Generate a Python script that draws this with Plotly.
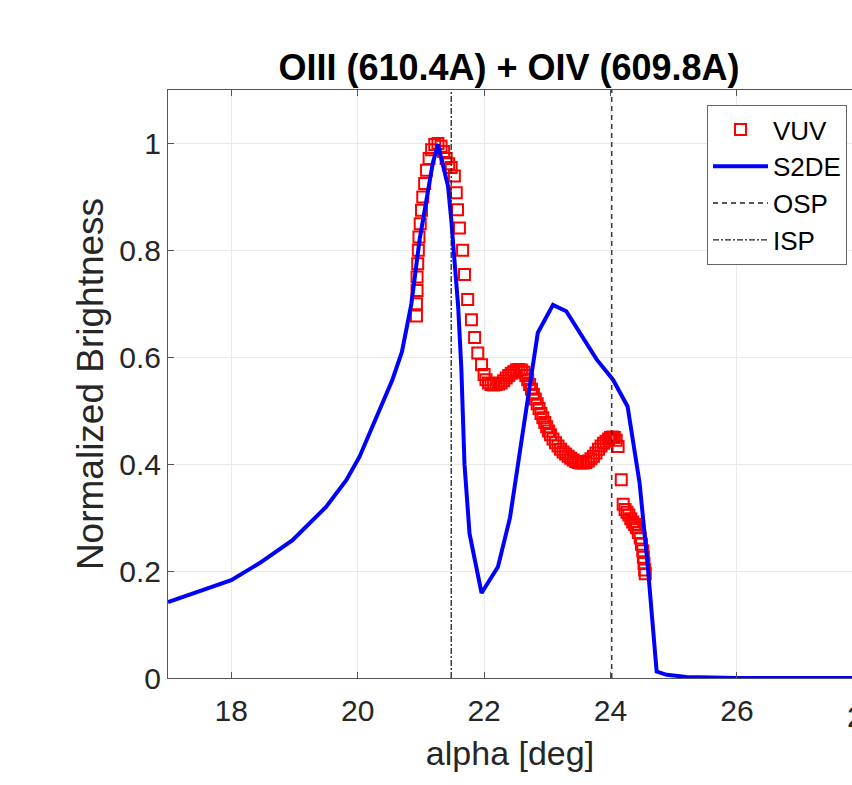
import plotly.graph_objects as go

# ---------------- data ----------------
title_text = "OIII (610.4A) + OIV (609.8A)"

vuv_alpha = [20.93, 20.93, 20.94, 20.94, 20.95, 20.96, 20.97, 20.99, 21.01, 21.03,
             21.06, 21.09, 21.13, 21.17, 21.22, 21.27, 21.32, 21.36, 21.40, 21.44,
             21.48, 21.53, 21.56, 21.58, 21.61, 21.66, 21.69, 21.74, 21.80, 21.85,
             21.90, 21.96, 22.00, 22.03, 22.07, 22.11, 22.15, 22.19, 22.23, 22.27,
             22.31, 22.35, 22.39, 22.43, 22.47, 22.51, 22.55, 22.59, 22.63, 22.66,
             22.69, 22.72, 22.75, 22.78, 22.81, 22.84, 22.87, 22.90, 22.93, 22.96,
             22.99, 23.02, 23.05, 23.09, 23.13, 23.17, 23.21, 23.25, 23.29, 23.33,
             23.37, 23.41, 23.45, 23.49, 23.53, 23.57, 23.61, 23.65, 23.69, 23.73,
             23.77, 23.81, 23.85, 23.89, 23.93, 23.97, 24.00, 24.03, 24.06, 24.09,
             24.12, 24.17, 24.20, 24.23, 24.26, 24.29, 24.32, 24.35, 24.38, 24.41,
             24.44, 24.47, 24.49, 24.51, 24.52, 24.53, 24.54, 24.55]
vuv_bright = [0.677, 0.700, 0.725, 0.750, 0.775, 0.800, 0.825, 0.850, 0.875, 0.900,
              0.925, 0.950, 0.972, 0.988, 0.998, 1.000, 0.995, 0.985, 0.972, 0.962,
              0.955, 0.939, 0.908, 0.876, 0.842, 0.800, 0.755, 0.708, 0.670, 0.637,
              0.608, 0.586, 0.568, 0.558, 0.552, 0.549, 0.548, 0.549, 0.550, 0.552,
              0.556, 0.561, 0.566, 0.570, 0.573, 0.576, 0.577, 0.576, 0.572, 0.566,
              0.558, 0.549, 0.540, 0.531, 0.522, 0.513, 0.504, 0.495, 0.487, 0.478,
              0.470, 0.462, 0.455, 0.447, 0.440, 0.434, 0.428, 0.423, 0.419, 0.415,
              0.411, 0.408, 0.405, 0.403, 0.402, 0.402, 0.403, 0.406, 0.410, 0.415,
              0.421, 0.428, 0.434, 0.439, 0.443, 0.447, 0.450, 0.451, 0.450, 0.445,
              0.433, 0.371, 0.325, 0.315, 0.310, 0.305, 0.298, 0.292, 0.287, 0.281,
              0.272, 0.262, 0.250, 0.238, 0.226, 0.214, 0.202, 0.195]

s2de_alpha = [17.0, 17.5, 18.0, 18.45, 18.97, 19.5, 19.82, 20.03, 20.3, 20.55,
              20.7, 20.85, 20.98, 21.09, 21.19, 21.27, 21.43, 21.48, 21.53, 21.59,
              21.64, 21.69, 21.77, 21.96, 22.22, 22.41, 22.61, 22.85, 23.09, 23.3,
              23.78, 24.04, 24.27, 24.46, 24.59, 24.73, 24.89, 25.2, 26.0, 27.0, 28.0]
s2de_bright = [0.142, 0.162, 0.183, 0.215, 0.258, 0.32, 0.37, 0.414, 0.49, 0.558,
               0.61, 0.70, 0.82, 0.90, 0.964, 0.998, 0.92, 0.858, 0.783, 0.695,
               0.58, 0.40, 0.27, 0.159, 0.208, 0.30, 0.458, 0.646, 0.698, 0.686,
               0.596, 0.558, 0.508, 0.365, 0.208, 0.012, 0.006, 0.002, 0.0, 0.0, 0.0]

osp_alpha = 24.02
isp_alpha = 21.48

x_range = [17, 27.82]
y_range = [0, 1.1]
x_ticks = [18, 20, 22, 24, 26, 28]
y_ticks = [0, 0.2, 0.4, 0.6, 0.8, 1.0]
y_ticktext = ["0", "0.2", "0.4", "0.6", "0.8", "1"]

# ---------------- figure ----------------
FONT = "Liberation Sans, Arial, Helvetica, sans-serif"
TXT = "#262626"
AX = "#555555"

fig = go.Figure()

fig.add_trace(go.Scatter(
    x=vuv_alpha, y=vuv_bright, mode="markers", name="VUV",
    marker=dict(symbol="square-open", size=11, color="#ff0000",
                line=dict(width=2, color="#ff0000")),
))
fig.add_trace(go.Scatter(
    x=s2de_alpha, y=s2de_bright, mode="lines", name="S2DE",
    line=dict(color="#0000ff", width=4),
))
fig.add_trace(go.Scatter(
    x=[osp_alpha, osp_alpha], y=y_range, mode="lines", name="OSP",
    line=dict(color="#222222", width=1.3, dash="5px,4px"),
))
fig.add_trace(go.Scatter(
    x=[isp_alpha, isp_alpha], y=y_range, mode="lines", name="ISP",
    line=dict(color="#222222", width=1.3, dash="6px,2px,2px,2px"),
))

fig.update_layout(
    width=852, height=785,
    margin=dict(l=168, r=0, t=90, b=107),
    paper_bgcolor="white", plot_bgcolor="white",
    font=dict(family=FONT, color=TXT, size=30),
    title=dict(text="<b>" + title_text + "</b>", x=509 / 852, xanchor="center",
               xref="container", y=1 - 67 / 785, yanchor="middle", yref="container",
               font=dict(family=FONT, size=36, color="#000000")),
    showlegend=True,
    legend=dict(x=(847 - 168) / 684, y=(678 - 105) / 588, xanchor="right", yanchor="top",
                bgcolor="white", bordercolor="#666666", borderwidth=1,
                font=dict(family=FONT, size=26, color="#000000"),
                tracegroupgap=0, itemwidth=55),
    xaxis=dict(range=x_range, tickvals=x_ticks, ticks="inside", ticklen=6,
               tickcolor=AX, showline=True, linecolor=AX, linewidth=1, mirror="ticks",
               showgrid=True, gridcolor="#e9e9e9", gridwidth=1, zeroline=False,
               tickfont=dict(size=30, color=TXT), ticklabelstandoff=6,
               title=dict(text="alpha [deg]", font=dict(size=34, color=TXT), standoff=15)),
    yaxis=dict(range=y_range, tickvals=y_ticks, ticktext=y_ticktext, ticks="inside",
               ticklen=6, tickcolor=AX, showline=True, linecolor=AX, linewidth=1,
               mirror=False, showgrid=True, gridcolor="#e9e9e9", gridwidth=1,
               zeroline=False, tickfont=dict(size=30, color=TXT),
               title=dict(text="Normalized Brightness", font=dict(size=37, color=TXT),
                          standoff=4)),
)

# partially visible last tick label at the right edge (clipped by the page)
fig.add_annotation(text="28", xref="paper", yref="paper",
                   x=(28 - x_range[0]) / (x_range[1] - x_range[0]), y=0,
                   xanchor="center", yanchor="top", yshift=-20, showarrow=False,
                   font=dict(family=FONT, size=30, color=TXT))

fig.write_html("out.html", config={"displayModeBar": False},
               post_script="document.body.style.margin='0px';")
